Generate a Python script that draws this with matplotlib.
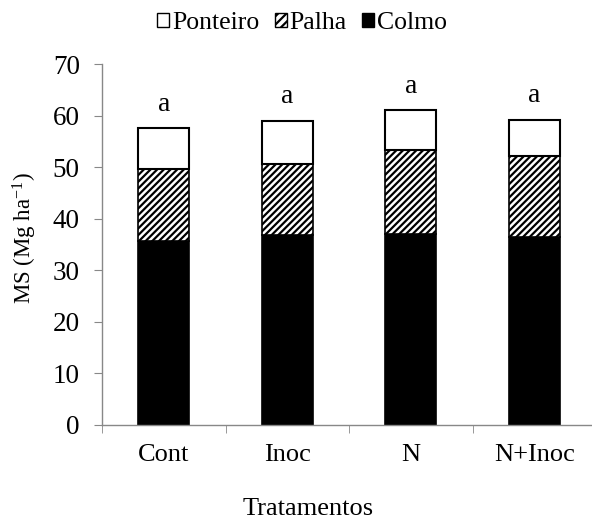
import matplotlib
matplotlib.use("Agg")
import matplotlib.pyplot as plt
import numpy as np
from matplotlib.patches import Patch

plt.rcParams['font.family'] = ['Liberation Serif', 'DejaVu Serif']
plt.rcParams['mathtext.fontset'] = 'custom'
plt.rcParams['mathtext.rm'] = 'Liberation Serif'
plt.rcParams['mathtext.it'] = 'Liberation Serif:italic'
plt.rcParams['hatch.linewidth'] = 1.6

#### Data ####
tratamentos = ['Cont', 'Inoc', 'N', 'N+Inoc']
colmo = [35.7, 36.8, 37.1, 36.5]
palha = [14.0, 13.8, 16.3, 15.6]
ponteiro = [7.9, 8.4, 7.6, 7.1]
letras = ['a', 'a', 'a', 'a']

#### Plot ####
fig = plt.figure(figsize=(5.92, 5.27), dpi=100)
ax = fig.add_axes([102 / 592, 102 / 527, 494 / 592, 361 / 527])

x = np.arange(len(tratamentos))
w = 0.41
base2 = np.array(colmo)
base3 = base2 + np.array(palha)
total = base3 + np.array(ponteiro)

ax.bar(x, colmo, w, color='black', edgecolor='black', linewidth=1.2)
ax.bar(x, palha, w, bottom=base2, color='white', edgecolor='black',
       hatch='/////', linewidth=1.2)
ax.bar(x, ponteiro, w, bottom=base3, color='white', edgecolor='black',
       linewidth=1.5)

for xi, t, l in zip(x, total, letras):
    ax.text(xi, t + 2.2, l, ha='center', va='bottom', fontsize=20)

ax.set_xlim(-0.5, 3.5)
ax.set_ylim(0, 70)
ax.set_yticks(range(0, 71, 10))
ax.set_xticks(x)
ax.set_xticklabels(tratamentos)
ax.set_xticks(np.arange(-0.5, 4, 1), minor=True)
ax.tick_params(axis='x', which='major', length=0, pad=14, labelsize=19)
ax.tick_params(axis='x', which='minor', length=6, color='#888888')
ax.tick_params(axis='y', length=6, color='#888888', labelsize=19.5, pad=10)

for s in ['top', 'right']:
    ax.spines[s].set_visible(False)
for s in ['left', 'bottom']:
    ax.spines[s].set_color('#888888')
    ax.spines[s].set_linewidth(1.0)

fig.text(25 / 592, 1 - 238 / 527, 'MS (Mg ha$^{\\mathrm{-1}}$)', rotation=90,
         ha='center', va='center', fontsize=16.5)
fig.text(308 / 592, 1 - 509 / 527, 'Tratamentos', ha='center', va='center', fontsize=19)

handles = [Patch(facecolor='white', edgecolor='black', label='Ponteiro'),
           Patch(facecolor='white', edgecolor='black', hatch='////', label='Palha'),
           Patch(facecolor='black', edgecolor='black', label='Colmo')]
fig.legend(handles=handles, loc='center', bbox_to_anchor=(302 / 592, 1 - 23 / 527),
           ncol=3, frameon=False, fontsize=18.5, handlelength=0.47, handleheight=0.47,
           handletextpad=0.1, columnspacing=0.6)

plt.savefig('out.png', dpi=100)
